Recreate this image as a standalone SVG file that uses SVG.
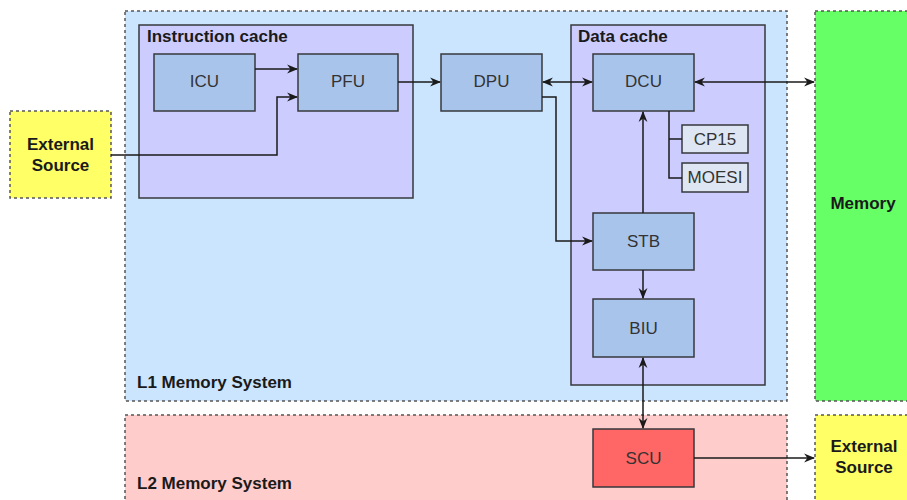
<svg xmlns="http://www.w3.org/2000/svg" width="907" height="500" viewBox="0 0 907 500">
<style>
.cont{stroke:#555;stroke-width:1.5;stroke-dasharray:3 3}
.grp{fill:#ccccff;stroke:#36393d;stroke-width:1.5}
.node{fill:#a9c4eb;stroke:#36393d;stroke-width:1.5}
.small{fill:#dde6f2;stroke:#36393d;stroke-width:1.5}
.lbl{font-family:"Liberation Sans",Arial,sans-serif;font-size:17px;fill:#333;text-anchor:middle}
.ttl{font-family:"Liberation Sans",Arial,sans-serif;font-size:17px;font-weight:bold;fill:#1a1a1a}
.btxt{font-family:"Liberation Sans",Arial,sans-serif;font-size:17px;font-weight:bold;fill:#1a1a1a;text-anchor:middle}
.edge{fill:none;stroke:#1a1a1a;stroke-width:1.5}
</style>
<defs>
<marker id="arr" viewBox="0 0 10 10" refX="9" refY="5" markerWidth="11" markerHeight="11" markerUnits="userSpaceOnUse" orient="auto-start-reverse">
<path d="M0,1 L10,5 L0,9 L3,5 Z" fill="#1a1a1a"/>
</marker>
</defs>
<g id="l1">
<rect class="cont" x="125" y="11" width="662" height="390" fill="#cce5ff"/>
<text class="ttl" x="137" y="388">L1 Memory System</text>
</g>
<g id="l2">
<rect class="cont" x="125" y="415" width="662" height="100" fill="#ffcccc"/>
<text class="ttl" x="137" y="489">L2 Memory System</text>
</g>
<g id="memory">
<rect class="cont" x="815" y="11" width="98" height="390" fill="#66ff66"/>
<text class="btxt" x="863" y="209">Memory</text>
</g>
<g id="ext-left">
<rect class="cont" x="10" y="111" width="101" height="87" fill="#ffff66"/>
<text class="btxt" x="60.5" y="150">External</text>
<text class="btxt" x="60.5" y="171">Source</text>
</g>
<g id="ext-right">
<rect class="cont" x="815" y="415" width="98" height="100" fill="#ffff66"/>
<text class="btxt" x="864" y="452">External</text>
<text class="btxt" x="864" y="473">Source</text>
</g>
<g id="icache">
<rect class="grp" x="139" y="25" width="274" height="173"/>
<text class="ttl" x="147" y="42">Instruction cache</text>
</g>
<g id="dcache">
<rect class="grp" x="571" y="25" width="194" height="360"/>
<text class="ttl" x="578" y="42">Data cache</text>
</g>
<g id="icu"><rect class="node" x="154" y="54" width="101" height="57"/><text class="lbl" x="204.5" y="87">ICU</text></g>
<g id="pfu"><rect class="node" x="298" y="54" width="100" height="57"/><text class="lbl" x="348" y="87">PFU</text></g>
<g id="dpu"><rect class="node" x="441" y="54" width="101" height="57"/><text class="lbl" x="491.5" y="87">DPU</text></g>
<g id="dcu"><rect class="node" x="593" y="54" width="101" height="57"/><text class="lbl" x="643.5" y="87">DCU</text></g>
<g id="cp15"><rect class="small" x="682" y="125" width="66" height="28"/><text class="lbl" x="715" y="145">CP15</text></g>
<g id="moesi"><rect class="small" x="682" y="163" width="66" height="29"/><text class="lbl" x="715" y="183">MOESI</text></g>
<g id="stb"><rect class="node" x="593" y="213" width="101" height="57"/><text class="lbl" x="643.5" y="247">STB</text></g>
<g id="biu"><rect class="node" x="593" y="299" width="101" height="58"/><text class="lbl" x="643.5" y="334">BIU</text></g>
<g id="scu"><rect class="node" x="593" y="429" width="101" height="58" style="fill:#ff6666"/><text class="lbl" x="643.5" y="464">SCU</text></g>
<g id="connectors">
<path class="edge" d="M255,69 H297" marker-end="url(#arr)"/>
<path class="edge" d="M111,155 H277 V97 H297" marker-end="url(#arr)"/>
<path class="edge" d="M398,82 H440" marker-end="url(#arr)"/>
<path class="edge" d="M543,82 H592" marker-start="url(#arr)" marker-end="url(#arr)"/>
<path class="edge" d="M695,82 H814" marker-start="url(#arr)" marker-end="url(#arr)"/>
<path class="edge" d="M669,111 V178 H682 M669,139 H682"/>
<path class="edge" d="M643,213 V112" marker-end="url(#arr)"/>
<path class="edge" d="M542,97 H556 V241 H592" marker-end="url(#arr)"/>
<path class="edge" d="M643,270 V298" marker-end="url(#arr)"/>
<path class="edge" d="M643,358 V428" marker-start="url(#arr)" marker-end="url(#arr)"/>
<path class="edge" d="M694,458 H814" marker-end="url(#arr)"/>
</g>
</svg>
